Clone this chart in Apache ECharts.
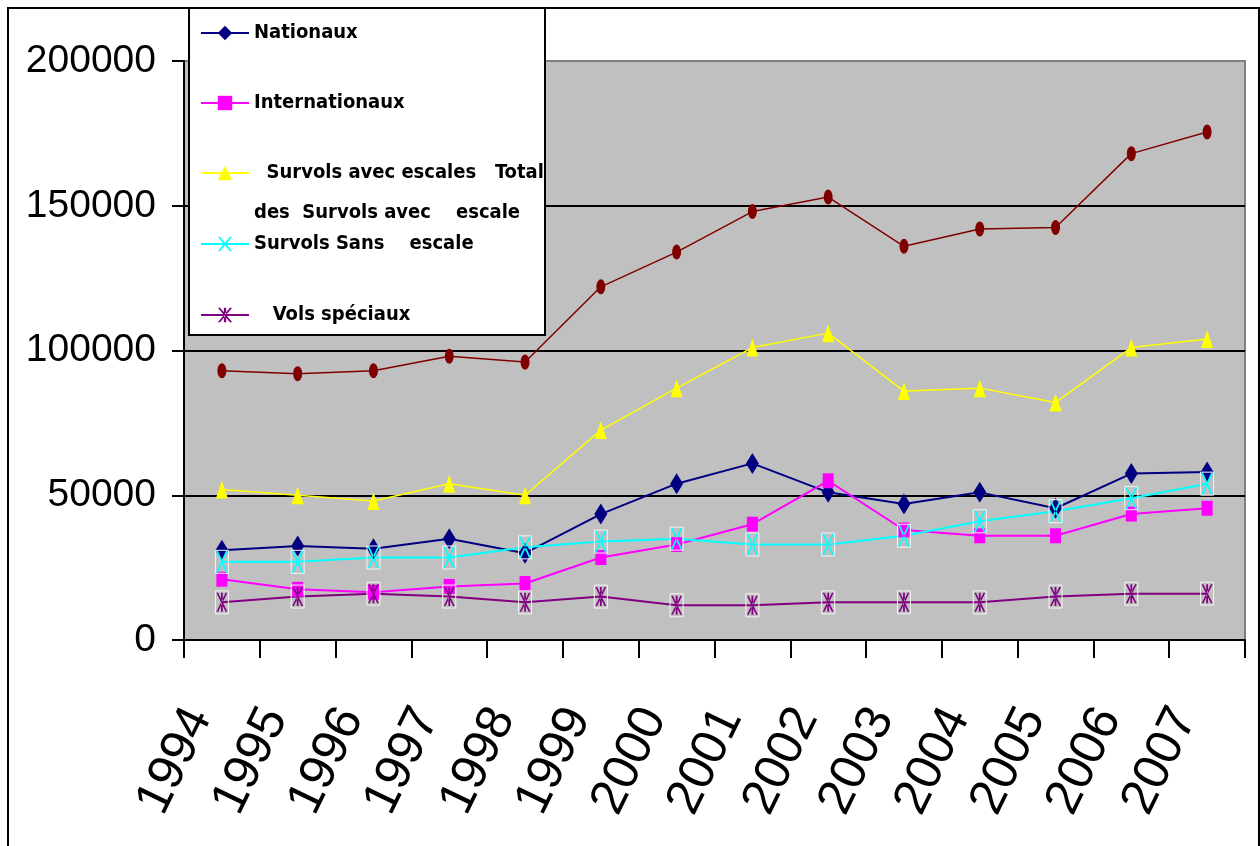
<!DOCTYPE html>
<html>
<head>
<meta charset="utf-8">
<script src="https://cdn.jsdelivr.net/npm/echarts@6/dist/echarts.min.js"></script>
<style>
  html, body { margin: 0; padding: 0; background: #fff; }
  #chart { width: 1260px; height: 846px; }
</style>
</head>
<body>
<div id="chart"></div>
<script>
// Years on the category axis
const years = ['1994', '1995', '1996', '1997', '1998', '1999', '2000',
               '2001', '2002', '2003', '2004', '2005', '2006', '2007'];

// Flight counts per year
const nationaux = [31000, 32500, 31500, 35000, 30000, 43500, 54000, 61000, 51000, 47000, 51000, 45500, 57500, 58000];
const internationaux = [21000, 17500, 16500, 18500, 19500, 28500, 33000, 40000, 55000, 38000, 36000, 36000, 43500, 45500];
const survolsAvecEscales = [52000, 50000, 48000, 54000, 50000, 72500, 87000, 101000, 106000, 86000, 87000, 82000, 101000, 104000];
const totalSurvolsAvecEscale = [93000, 92000, 93000, 98000, 96000, 122000, 134000, 148000, 153000, 136000, 142000, 142500, 168000, 175500];
const survolsSansEscale = [27000, 27000, 28500, 28500, 32000, 34000, 35000, 33000, 33000, 36000, 41000, 44500, 49000, 54000];
const volsSpeciaux = [13000, 15000, 16000, 15000, 13000, 15000, 12000, 12000, 13000, 13000, 13000, 15000, 16000, 16000];

// Value axis ticks
const yMin = 0, yMax = 200000, yStep = 50000;

// Series names
const N_NAT = 'Nationaux';
const N_INT = 'Internationaux';
const N_AVEC = 'Survols avec escales';
const N_TOTAL = 'Total des Survols avec escale';
const N_SANS = 'Survols Sans escale';
const N_SPEC = 'Vols spéciaux';

// Marker shapes
const CROSS = 'path://M0,0 L1.6,0 L10,10 L8.4,10 Z M10,0 L8.4,0 L0,10 L1.6,10 Z';
const STAR = 'path://M0,0 L1.6,0 L10,10 L8.4,10 Z M10,0 L8.4,0 L0,10 L1.6,10 Z M4.2,0 L5.8,0 L5.8,10 L4.2,10 Z';

const legendFont = {
  fontFamily: "'DejaVu Sans Condensed', 'Liberation Sans', sans-serif",
  fontWeight: 'bold',
  fontSize: 20,
  color: '#000'
};

// White empty frame drawn around each marker of the boxed series
const frameLabel = {
  show: true,
  position: 'inside',
  formatter: ' ',
  width: 13,
  height: 23,
  padding: 0,
  borderColor: '#f4f4f4',
  borderWidth: 1
};

function legendAt(name, left, top, formatter, hideIcon) {
  const item = { name: name };
  if (hideIcon) {
    item.itemStyle = { opacity: 0 };
    item.lineStyle = { opacity: 0 };
  }
  return {
    data: [item],
    left: left,
    top: top,
    orient: 'vertical',
    padding: 0,
    itemWidth: 48,
    itemHeight: 18,
    itemGap: 0,
    selectedMode: false,
    formatter: formatter || '{name}',
    textStyle: legendFont
  };
}

const chart = echarts.init(document.getElementById('chart'), null, { renderer: 'canvas' });

chart.setOption({
  animation: false,
  backgroundColor: '#fff',
  graphic: [
    {
      type: 'rect', z: 0,
      shape: { x: 8, y: 8, width: 1251, height: 860 },
      style: { fill: 'none', stroke: '#000', lineWidth: 2 }
    },
    {
      type: 'rect', z: 3,
      shape: { x: 189, y: 8, width: 356, height: 327 },
      style: { fill: '#fff', stroke: '#000', lineWidth: 2 }
    }
  ],
  legend: [
    legendAt(N_NAT, 200, 23),
    legendAt(N_INT, 200, 93),
    legendAt(N_AVEC, 200, 163, '  Survols avec escales   Total'),
    legendAt(N_TOTAL, 200, 203, 'des  Survols avec    escale', true),
    legendAt(N_SANS, 200, 234, 'Survols Sans    escale'),
    legendAt(N_SPEC, 200, 305, '   Vols spéciaux')
  ],
  grid: {
    left: 184, right: 15, top: 61, bottom: 206,
    show: true,
    backgroundColor: '#c0c0c0',
    borderColor: '#808080',
    borderWidth: 2
  },
  xAxis: {
    type: 'category',
    data: years,
    boundaryGap: true,
    axisLine: { lineStyle: { color: '#000', width: 2 } },
    axisTick: { show: true, length: 18, lineStyle: { color: '#000', width: 2 } },
    axisLabel: {
      interval: 0,
      rotate: 64,
      margin: 82,
      verticalAlign: 'bottom',
      fontSize: 50,
      fontFamily: "'Liberation Sans', Arial, sans-serif",
      color: '#000'
    },
    splitLine: { show: false }
  },
  yAxis: {
    type: 'value',
    min: yMin, max: yMax, interval: yStep,
    axisLine: { show: true, lineStyle: { color: '#000', width: 2 } },
    axisTick: { show: true, length: 12, lineStyle: { color: '#000', width: 2 } },
    axisLabel: {
      margin: 28,
      fontSize: 39,
      fontFamily: "'Liberation Sans', Arial, sans-serif",
      color: '#000',
      formatter: function (v) { return String(v); }
    },
    splitLine: {
      show: true,
      lineStyle: { color: ['#000', '#000', '#000', '#000', '#808080'], width: 2 }
    }
  },
  series: [
    {
      name: N_NAT, type: 'line', data: nationaux,
      symbol: 'diamond', symbolSize: [13, 21],
      itemStyle: { color: '#000080' },
      lineStyle: { color: '#000080', width: 2 }
    },
    {
      name: N_INT, type: 'line', data: internationaux,
      symbol: 'rect', symbolSize: [11, 15],
      itemStyle: { color: '#ff00ff' },
      lineStyle: { color: '#ff00ff', width: 2 }
    },
    {
      name: N_AVEC, type: 'line', data: survolsAvecEscales,
      symbol: 'triangle', symbolSize: [12, 18],
      itemStyle: { color: '#ffff00' },
      lineStyle: { color: '#ffff00', width: 1.5 }
    },
    {
      name: N_TOTAL, type: 'line', data: totalSurvolsAvecEscale,
      symbol: 'circle', symbolSize: [9, 15],
      itemStyle: { color: '#800000' },
      lineStyle: { color: '#800000', width: 1.5 }
    },
    {
      name: N_SANS, type: 'line', data: survolsSansEscale,
      symbol: CROSS, symbolSize: [12, 22], symbolKeepAspect: false,
      itemStyle: { color: '#00ffff' },
      lineStyle: { color: '#00ffff', width: 2 },
      label: frameLabel
    },
    {
      name: N_SPEC, type: 'line', data: volsSpeciaux,
      symbol: STAR, symbolSize: [11, 19], symbolKeepAspect: false,
      itemStyle: { color: '#800080' },
      lineStyle: { color: '#800080', width: 2 },
      label: frameLabel
    }
  ]
});
</script>
</body>
</html>
